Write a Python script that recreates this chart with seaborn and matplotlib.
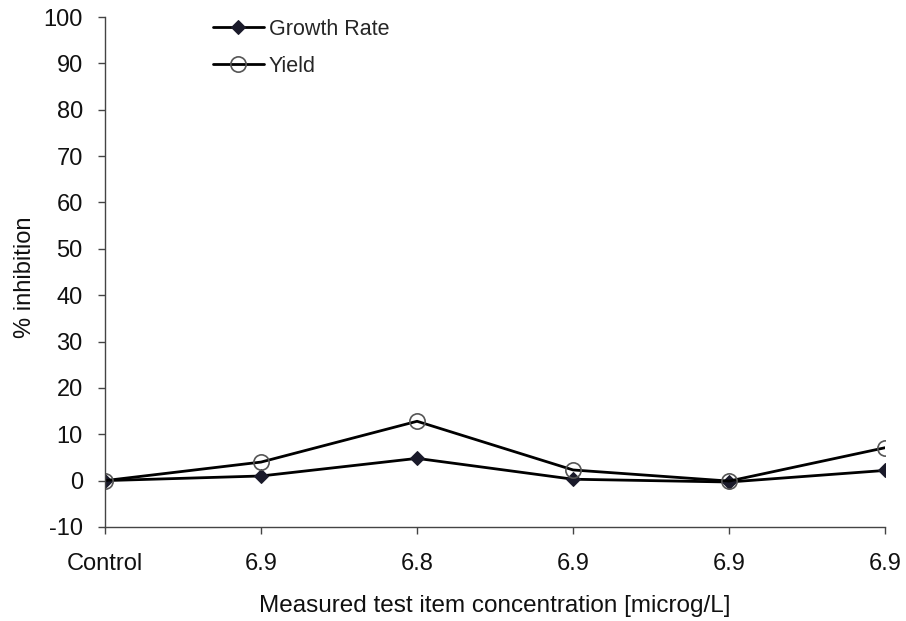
import matplotlib
matplotlib.use("Agg")
import matplotlib.pyplot as plt
import seaborn as sns
import pandas as pd

# Concentration groups (x axis) and % inhibition for each endpoint
concentrations = ["Control", "6.9", "6.8", "6.9", "6.9", "6.9"]
growth_rate = [0.0, 1.0, 4.8, 0.3, -0.3, 2.2]
yield_inhib = [0.0, 4.0, 12.8, 2.3, -0.1, 7.1]
y_ticks = list(range(-10, 101, 10))

sns.set_theme(style="ticks")
plt.rcParams["font.family"] = ["Liberation Sans", "DejaVu Sans"]
plt.rcParams["axes.unicode_minus"] = False

pos = list(range(len(concentrations)))
df = pd.concat([
    pd.DataFrame({"pos": pos, "value": growth_rate, "series": "Growth Rate"}),
    pd.DataFrame({"pos": pos, "value": yield_inhib, "series": "Yield"}),
])

fig = plt.figure(figsize=(9.06, 6.21), dpi=100)
ax = fig.add_axes([0.1159, 0.1514, 0.8611, 0.8212])

sns.lineplot(data=df[df.series == "Growth Rate"], x="pos", y="value", ax=ax,
             color="black", linewidth=2, marker="D", markersize=7,
             markerfacecolor="#1a1a2a", markeredgecolor="#1a1a2a",
             label="Growth Rate", sort=False)
sns.lineplot(data=df[df.series == "Yield"], x="pos", y="value", ax=ax,
             color="black", linewidth=2, marker="o", markersize=11,
             markerfacecolor="none", markeredgecolor="#555555",
             markeredgewidth=1.2, label="Yield", sort=False)

ax.set_xlim(0, len(concentrations) - 1)
ax.set_ylim(-10, 100)
ax.set_yticks(y_ticks)
ax.set_xticks(pos)
ax.set_xticklabels(concentrations)
ax.tick_params(axis="both", labelsize=17, direction="out", length=5,
               width=1, color="#444444", labelcolor="#111111")
ax.tick_params(axis="y", pad=11)
ax.tick_params(axis="x", pad=14)
for side in ("top", "right"):
    ax.spines[side].set_visible(False)
for side in ("left", "bottom"):
    ax.spines[side].set_color("#444444")
    ax.spines[side].set_linewidth(1)

ax.set_xlabel("Measured test item concentration [microg/L]", fontsize=17.5,
              labelpad=14, color="#111111")
ax.set_ylabel("% inhibition", fontsize=17, color="#111111")
ax.yaxis.set_label_coords(-0.089, 0.49)

leg = ax.legend(loc="upper left", bbox_to_anchor=(0.113, 1.035), frameon=False,
                fontsize=15.5, handlelength=2.4, handletextpad=0.2,
                labelspacing=0.75)

fig.savefig("out.png", dpi=100, facecolor="white")
